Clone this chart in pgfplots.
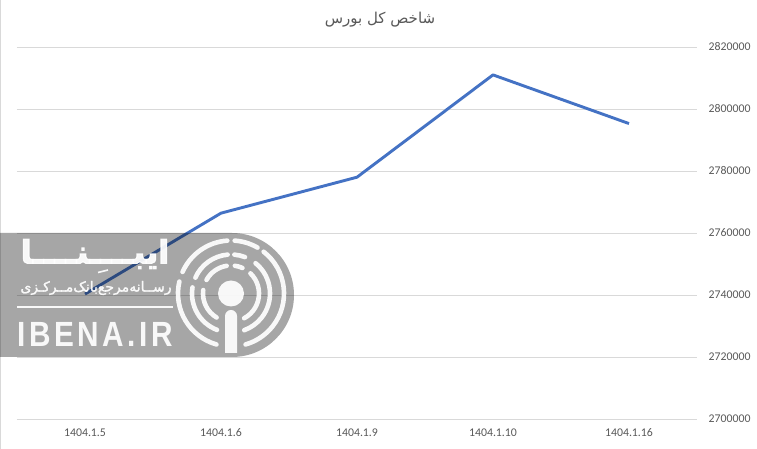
\documentclass[border=0pt]{standalone}
\usepackage{pgfplots}
\pgfplotsset{compat=1.18}
\usepackage{fontspec}
\usepackage{graphicx}
\setmainfont{Carlito}
\newfontfamily\arabicfont[Script=Arabic]{DejaVu Sans}
\newfontfamily\arabicheavy[Script=Arabic,FakeBold=3.5]{DejaVu Sans Bold}
\newfontfamily\arabicsemi[Script=Arabic,FakeBold=1.5]{DejaVu Sans}
\newfontfamily\logofont{Liberation Sans}
\TeXXeTstate=1
\definecolor{gridc}{HTML}{D9D9D9}
\definecolor{textc}{HTML}{595959}
\definecolor{linec}{HTML}{4472C4}
\definecolor{wmark}{HTML}{A6A6A6}

\begin{document}
\begin{tikzpicture}[x=1pt,y=1pt]
\path[use as bounding box] (0,0) rectangle (757,449);
\fill[white] (0,0) rectangle (757,449);
\draw[gridc,line width=1pt] (0.5,0) -- (0.5,449);
\begin{axis}[
   at={(17pt,30pt)},anchor=south west,
   scale only axis,
   width=680pt,height=372pt,
   xmin=0,xmax=5,
   ymin=2700000,ymax=2820000,
   xtick={0.5,1.5,2.5,3.5,4.5},
   xticklabels={1404.1.5,1404.1.6,1404.1.9,1404.1.10,1404.1.16},
   ytick={2700000,2720000,...,2820000},
   scaled y ticks=false,
   /pgf/number format/assume math mode=true,
   yticklabel style={/pgf/number format/fixed,/pgf/number format/1000 sep={},xshift=6pt},
   ymajorgrids,
   grid style={gridc,line width=0.8pt},
   axis y line=right,
   axis x line=bottom,
   axis line style={draw=none},
   major tick style={draw=none},
   tick label style={font=\fontsize{11.8}{14}\selectfont,text=textc},
   xticklabel style={yshift=-4pt},
   clip=false,
]
\addplot[linec,line width=2.9pt,line join=round] coordinates {
   (0.5,2740300)
   (1.5,2766400)
   (2.5,2778000)
   (3.5,2811000)
   (4.5,2795300)
};
\end{axis}

\node[text=textc,font=\arabicfont\fontsize{15}{17}\selectfont] at (380,429) {\beginR شاخص کل بورس\endR};

% watermark, y measured up from the bottom of the picture
\fill[wmark,blend mode=multiply] (0,216) -- (232,216) arc[start angle=90,end angle=-90,radius=62] -- (0,92) -- cycle;
\begin{scope}[white,opacity=0.92]
\begin{scope}[line cap=round,line width=4.6pt]
\foreach \r/\a/\b in {
  53/167/254, 53/156/94, 53/86/60, 53/52/-74,
  39/171/249, 39/156/95, 39/85/69, 39/51/-70,
  28/173/239, 28/151/99, 28/82/66, 28/46/-62}
  {\draw ({231+\r*cos(\a)},{155.5+\r*sin(\a)}) arc[start angle=\a,end angle=\b,radius=\r];}
\end{scope}
\fill (231,155.5) circle[radius=13];
\fill (225,96) -- (225,133) arc[start angle=180,end angle=0,radius=6] -- (237,96) -- cycle;
\node[inner sep=0pt,font=\arabicheavy\fontsize{32}{34}\selectfont] at (95,195) {\beginR ایبــــنــــا\endR};
\draw[line width=1.6pt] (98,176.5) -- (108,179);
\node[inner sep=0pt,font=\arabicsemi\fontsize{14}{16}\selectfont] at (96,161) {\beginR رســانه‌مرجع‌بانک‌مــرکـزی\endR};
\fill (17,141.4) rectangle (173,142.6);
\node[inner sep=0pt,font=\logofont\bfseries\fontsize{35}{38}\selectfont] at (95,114.5) {\scalebox{0.85}[1]{\addfontfeature{LetterSpace=12}IBENA.IR}};
\end{scope}
\end{tikzpicture}
\end{document}
